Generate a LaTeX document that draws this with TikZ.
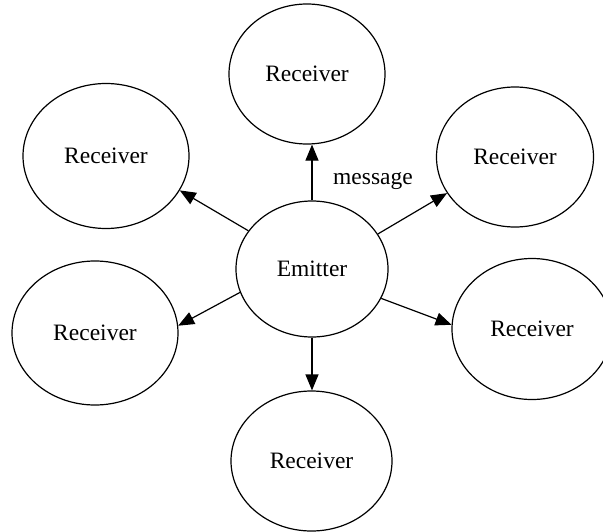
\documentclass[tikz,border=0pt]{standalone}
\usepackage{fontspec}
\setmainfont{Liberation Serif}
\usetikzlibrary{shapes.geometric,arrows.meta}
\begin{document}
\begin{tikzpicture}[x=1pt,y=-1pt,
  blob/.style={draw=black,line width=1.2pt,ellipse,inner sep=0pt,
    font=\fontsize{23.5}{28}\selectfont},
  link/.style={draw=black,line width=1.2pt,-{Triangle[length=16pt,width=13pt]}},
  lbl/.style={font=\fontsize{23.5}{28}\selectfont,inner sep=0pt}]
\useasboundingbox (0,0) rectangle (603,531);
\node[blob,minimum width=152pt,minimum height=136pt] (e) at (312,269) {Emitter};
\node[blob,minimum width=156pt,minimum height=140pt] (rt) at (307,74) {Receiver};
\node[blob,minimum width=166pt,minimum height=145pt] (rtl) at (106,156) {Receiver};
\node[blob,minimum width=157pt,minimum height=140pt] (rtr) at (515,157) {Receiver};
\node[blob,minimum width=166pt,minimum height=144pt] (rl) at (95,333) {Receiver};
\node[blob,minimum width=160pt,minimum height=141pt] (rr) at (532,329) {Receiver};
\node[blob,minimum width=161pt,minimum height=140pt] (rb) at (311.5,461) {Receiver};
\node[lbl] (msg) at (373,181) {message};
\draw[link] (e.north) -- (e.north |- rt.south);
\draw[link] (e.149) -- (rtl.335);
\draw[link] (e.28) -- (rtr.208);
\draw[link] (e.198) -- (rl.5);
\draw[link] (e.337) -- (rr.177);
\draw[link] (e.south) -- (e.south |- rb.north);
\end{tikzpicture}
\end{document}
